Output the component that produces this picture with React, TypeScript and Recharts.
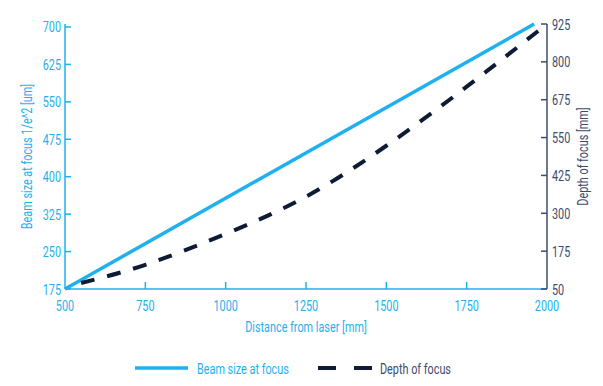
import React from "react";
import {
  LineChart,
  Line,
  XAxis,
  YAxis,
  Legend,
} from "recharts";

const distanceTicks = [500, 750, 1000, 1250, 1500, 1750, 2000];
const beamTicks = [175, 250, 325, 400, 475, 550, 625, 700];
const depthTicks = [50, 175, 300, 425, 550, 675, 800, 925];

const beamDistance = [500, 1960];
const beamSize = [175, 706];

const depthDistance = [550, 750, 1000, 1250, 1500, 1750, 2000];
const depthOfFocus = [70, 130, 232, 355, 523, 718, 925];

const beamData = beamDistance.map((d, i) => ({ distance: d, beam: beamSize[i] }));
const depthData = depthDistance.map((d, i) => ({ distance: d, depth: depthOfFocus[i] }));

const BLUE = "#1fb0ef";
const NAVY = "#0e1b35";
const SLATE = "#3c4c6c";
const FONT = "Roboto, sans-serif";
const SQUEEZE = 0.7;

// narrow text: the original uses a condensed face we don't have
const CText = ({ x, y, anchor = "start", fill, rotate = 0, size = 15.5, children }: any) => (
  <text
    transform={`translate(${x},${y}) rotate(${rotate}) scale(${SQUEEZE},1)`}
    textAnchor={anchor}
    fill={fill}
    fontSize={size}
    fontFamily={FONT}
  >
    {children}
  </text>
);

const LeftTick = (props: any) => {
  const { x, y, payload } = props;
  return (
    <g>
      <line x1={x} x2={x + 6} y1={y} y2={y} stroke={BLUE} strokeWidth={1.5} />
      <CText x={x - 4} y={y + 5.5} anchor="end" fill={BLUE}>
        {payload.value}
      </CText>
    </g>
  );
};

const RightTick = (props: any) => {
  const { x, y, payload } = props;
  return (
    <g>
      <line x1={x - 6} x2={x} y1={y} y2={y} stroke={SLATE} strokeWidth={1.5} />
      <CText x={x + 5} y={y + 5.5} fill={SLATE}>
        {payload.value}
      </CText>
    </g>
  );
};

const BottomTick = (props: any) => {
  const { x, y, payload } = props;
  return (
    <g>
      {payload.value !== 500 && payload.value !== 2000 && (
        <line x1={x} x2={x} y1={y - 7} y2={y} stroke={BLUE} strokeWidth={1.5} />
      )}
      <CText x={x} y={y + 22} anchor="middle" fill={BLUE}>
        {payload.value}
      </CText>
    </g>
  );
};

const leftTitle = (props: any) => {
  const { x, y, height } = props.viewBox;
  return (
    <CText x={x + 32} y={y + height / 2} anchor="middle" fill={BLUE} rotate={-90}>
      Beam size at focus 1/e^2 [um]
    </CText>
  );
};

const rightTitle = (props: any) => {
  const { x, y, width, height } = props.viewBox;
  return (
    <CText x={x + width - 15} y={y + height / 2} anchor="middle" fill={SLATE} rotate={-90}>
      Depth of focus [mm]
    </CText>
  );
};

const bottomTitle = (props: any) => {
  const { x, y, width } = props.viewBox;
  return (
    <CText x={x + width / 2} y={y + 43} anchor="middle" fill={BLUE}>
      Distance from laser [mm]
    </CText>
  );
};

const renderLegend = () => (
  <div style={{ height: 39, position: "relative" }}>
    <svg width={603} height={39} style={{ position: "absolute", left: 0, top: 0 }}>
      <line x1={135} x2={188} y1={21} y2={21} stroke={BLUE} strokeWidth={3.5} />
      <CText x={197} y={26.5} fill={BLUE}>
        Beam size at focus
      </CText>
      <line x1={318} x2={373} y1={21} y2={21} stroke={NAVY} strokeWidth={4} strokeDasharray="18 18" />
      <CText x={380} y={26.5} fill={SLATE}>
        Depth of focus
      </CText>
    </svg>
  </div>
);

export default function App() {
  return (
    <div style={{ position: "absolute", left: 0, top: 0, width: 603, height: 386, background: "#fff" }}>
      <LineChart width={603} height={386} margin={{ top: 24, right: 0, bottom: 0, left: 0 }}>
        <XAxis
          dataKey="distance"
          type="number"
          domain={[500, 2000]}
          ticks={distanceTicks}
          allowDuplicatedCategory={false}
          height={58}
          tickSize={0}
          tickMargin={0}
          tickLine={false}
          axisLine={{ stroke: BLUE, strokeWidth: 1.5 }}
          tick={<BottomTick />}
          interval={0}
          label={{ content: bottomTitle }}
        />
        <YAxis
          yAxisId="left"
          domain={[175, 700]}
          ticks={beamTicks}
          width={65}
          tickSize={0}
          tickMargin={0}
          tickLine={false}
          interval={0}
          axisLine={{ stroke: BLUE, strokeWidth: 1.5 }}
          tick={<LeftTick />}
          label={{ content: leftTitle }}
        />
        <YAxis
          yAxisId="right"
          orientation="right"
          domain={[50, 925]}
          ticks={depthTicks}
          width={56}
          tickSize={0}
          tickMargin={0}
          tickLine={false}
          interval={0}
          axisLine={{ stroke: SLATE, strokeWidth: 1.5 }}
          tick={<RightTick />}
          label={{ content: rightTitle }}
        />
        <Legend verticalAlign="bottom" height={39} content={renderLegend} />
        <Line
          yAxisId="left"
          data={beamData}
          dataKey="beam"
          type="linear"
          stroke={BLUE}
          strokeWidth={3.5}
          dot={false}
          activeDot={false}
          isAnimationActive={false}
        />
        <Line
          yAxisId="right"
          data={depthData}
          dataKey="depth"
          type="natural"
          stroke={NAVY}
          strokeWidth={4}
          strokeDasharray="14 13"
          dot={false}
          activeDot={false}
          isAnimationActive={false}
        />
      </LineChart>
    </div>
  );
}
